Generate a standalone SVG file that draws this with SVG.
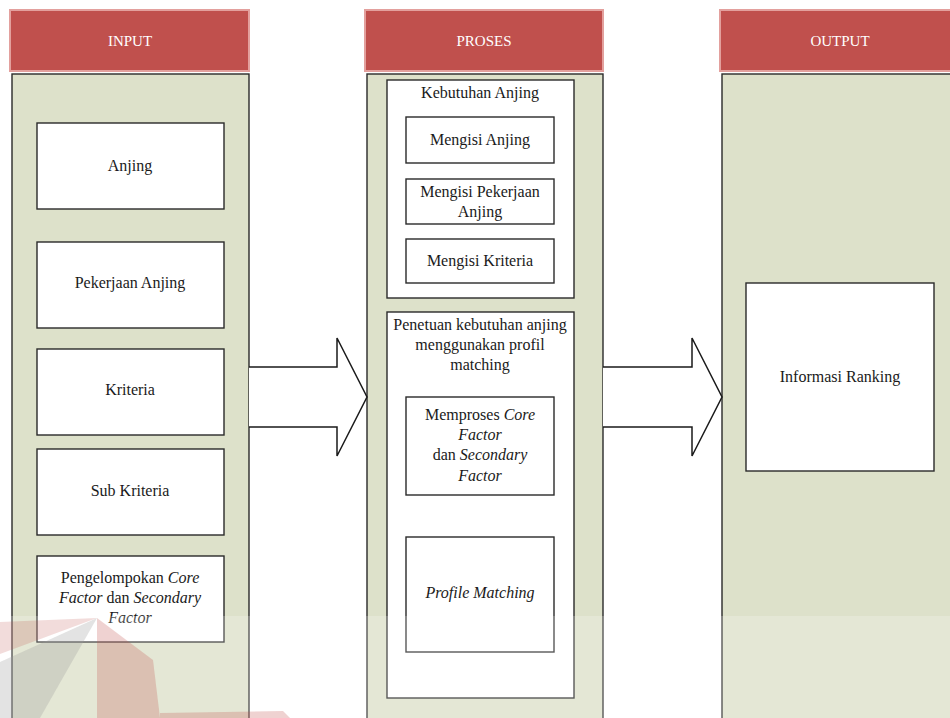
<svg xmlns="http://www.w3.org/2000/svg" width="950" height="718" viewBox="0 0 950 718">
  <style>
    .hdr { fill: #c0504d; stroke: #e3a09d; stroke-width: 2; }
    .hdr-t { fill: #ffffff; font-family: "Liberation Serif", "DejaVu Serif", serif; font-size: 15px; text-anchor: middle; }
    .panel { fill: #dde1ca; stroke: #2a2a2a; stroke-width: 1.4; }
    .box { fill: #ffffff; stroke: #2a2a2a; stroke-width: 1.4; }
    .t { fill: #1a1a1a; font-family: "Liberation Serif", "DejaVu Serif", serif; font-size: 16px; text-anchor: middle; }
    .i { font-style: italic; }
    .arrow { fill: #ffffff; stroke: #1a1a1a; stroke-width: 1.5; stroke-linejoin: miter; }
  </style>

  <rect width="950" height="718" fill="#ffffff"/>

  <!-- Column: INPUT -->
  <g id="input-column">
    <rect class="panel" x="12" y="74" width="237" height="660"/>
    <rect class="hdr" x="10" y="10" width="239" height="61"/>
    <text class="hdr-t" x="130" y="46">INPUT</text>
  </g>

  <!-- Column: PROSES -->
  <g id="proses-column">
    <rect class="panel" x="367" y="74" width="236" height="660"/>
    <rect class="hdr" x="365" y="10" width="238" height="61"/>
    <text class="hdr-t" x="484" y="46">PROSES</text>
  </g>

  <!-- Column: OUTPUT -->
  <g id="output-column">
    <rect class="panel" x="722" y="74" width="240" height="660"/>
    <rect class="hdr" x="720" y="10" width="240" height="61"/>
    <text class="hdr-t" x="840" y="46">OUTPUT</text>
  </g>

  <!-- Input items -->
  <g id="anjing">
    <rect class="box" x="37" y="123" width="187" height="86"/>
    <text class="t" x="130" y="171">Anjing</text>
  </g>
  <g id="pekerjaan-anjing">
    <rect class="box" x="37" y="242" width="187" height="86"/>
    <text class="t" x="130" y="288">Pekerjaan Anjing</text>
  </g>
  <g id="kriteria">
    <rect class="box" x="37" y="349" width="187" height="86"/>
    <text class="t" x="130" y="395">Kriteria</text>
  </g>
  <g id="sub-kriteria">
    <rect class="box" x="37" y="449" width="187" height="86"/>
    <text class="t" x="130" y="496">Sub Kriteria</text>
  </g>
  <g id="pengelompokan">
    <rect class="box" x="37" y="556" width="187" height="86"/>
    <text class="t" x="130" y="583">Pengelompokan <tspan class="i">Core</tspan></text>
    <text class="t" x="130" y="603"><tspan class="i">Factor</tspan> dan <tspan class="i">Secondary</tspan></text>
    <text class="t i" x="130" y="623">Factor</text>
  </g>

  <!-- Process: needs input -->
  <g id="kebutuhan-anjing">
    <rect class="box" x="387" y="80" width="187" height="218"/>
    <text class="t" x="480" y="98">Kebutuhan Anjing</text>
  </g>
  <g id="mengisi-anjing">
    <rect class="box" x="406" y="117" width="148" height="46"/>
    <text class="t" x="480" y="145">Mengisi Anjing</text>
  </g>
  <g id="mengisi-pekerjaan">
    <rect class="box" x="406" y="179" width="148" height="45"/>
    <text class="t" x="480" y="197">Mengisi Pekerjaan</text>
    <text class="t" x="480" y="217">Anjing</text>
  </g>
  <g id="mengisi-kriteria">
    <rect class="box" x="406" y="239" width="148" height="44"/>
    <text class="t" x="480" y="266">Mengisi Kriteria</text>
  </g>

  <!-- Process: profile matching -->
  <g id="penetuan-kebutuhan">
    <rect class="box" x="387" y="312" width="187" height="386"/>
    <text class="t" x="480" y="330">Penetuan kebutuhan anjing</text>
    <text class="t" x="480" y="350">menggunakan profil</text>
    <text class="t" x="480" y="370">matching</text>
  </g>
  <g id="memproses-factor">
    <rect class="box" x="406" y="397" width="148" height="98"/>
    <text class="t" x="480" y="420">Memproses <tspan class="i">Core</tspan></text>
    <text class="t i" x="480" y="440">Factor</text>
    <text class="t" x="480" y="460">dan <tspan class="i">Secondary</tspan></text>
    <text class="t i" x="480" y="481">Factor</text>
  </g>
  <g id="profile-matching">
    <rect class="box" x="406" y="537" width="148" height="115"/>
    <text class="t i" x="480" y="598">Profile Matching</text>
  </g>

  <!-- Output item -->
  <g id="informasi-ranking">
    <rect class="box" x="746" y="283" width="188" height="188"/>
    <text class="t" x="840" y="382">Informasi Ranking</text>
  </g>

  <!-- Block arrows between columns -->
  <g id="connectors">
    <path class="arrow" d="M249,367 H337 V338 L367,397 L337,456 V427 H249"/>
    <path class="arrow" d="M603,367 H692 V338 L722,397 L692,456 V427 H603"/>
  </g>

  <!-- Faint emblem and haze laid over the lower band -->
  <g id="emblem">
    <rect x="0" y="616" width="950" height="102" fill="#ffffff" opacity="0.22"/>
    <polygon points="97,618 0,622 0,654" fill="#c0504d" opacity="0.2"/>
    <polygon points="97,618 0,662 0,718 40,718" fill="#9a9a9a" opacity="0.28"/>
    <polygon points="97,618 153,660 160,718 97,718" fill="#c0504d" opacity="0.26"/>
    <polygon points="160,713 283,711 290,718 160,718" fill="#c0504d" opacity="0.26"/>
  </g>
</svg>
